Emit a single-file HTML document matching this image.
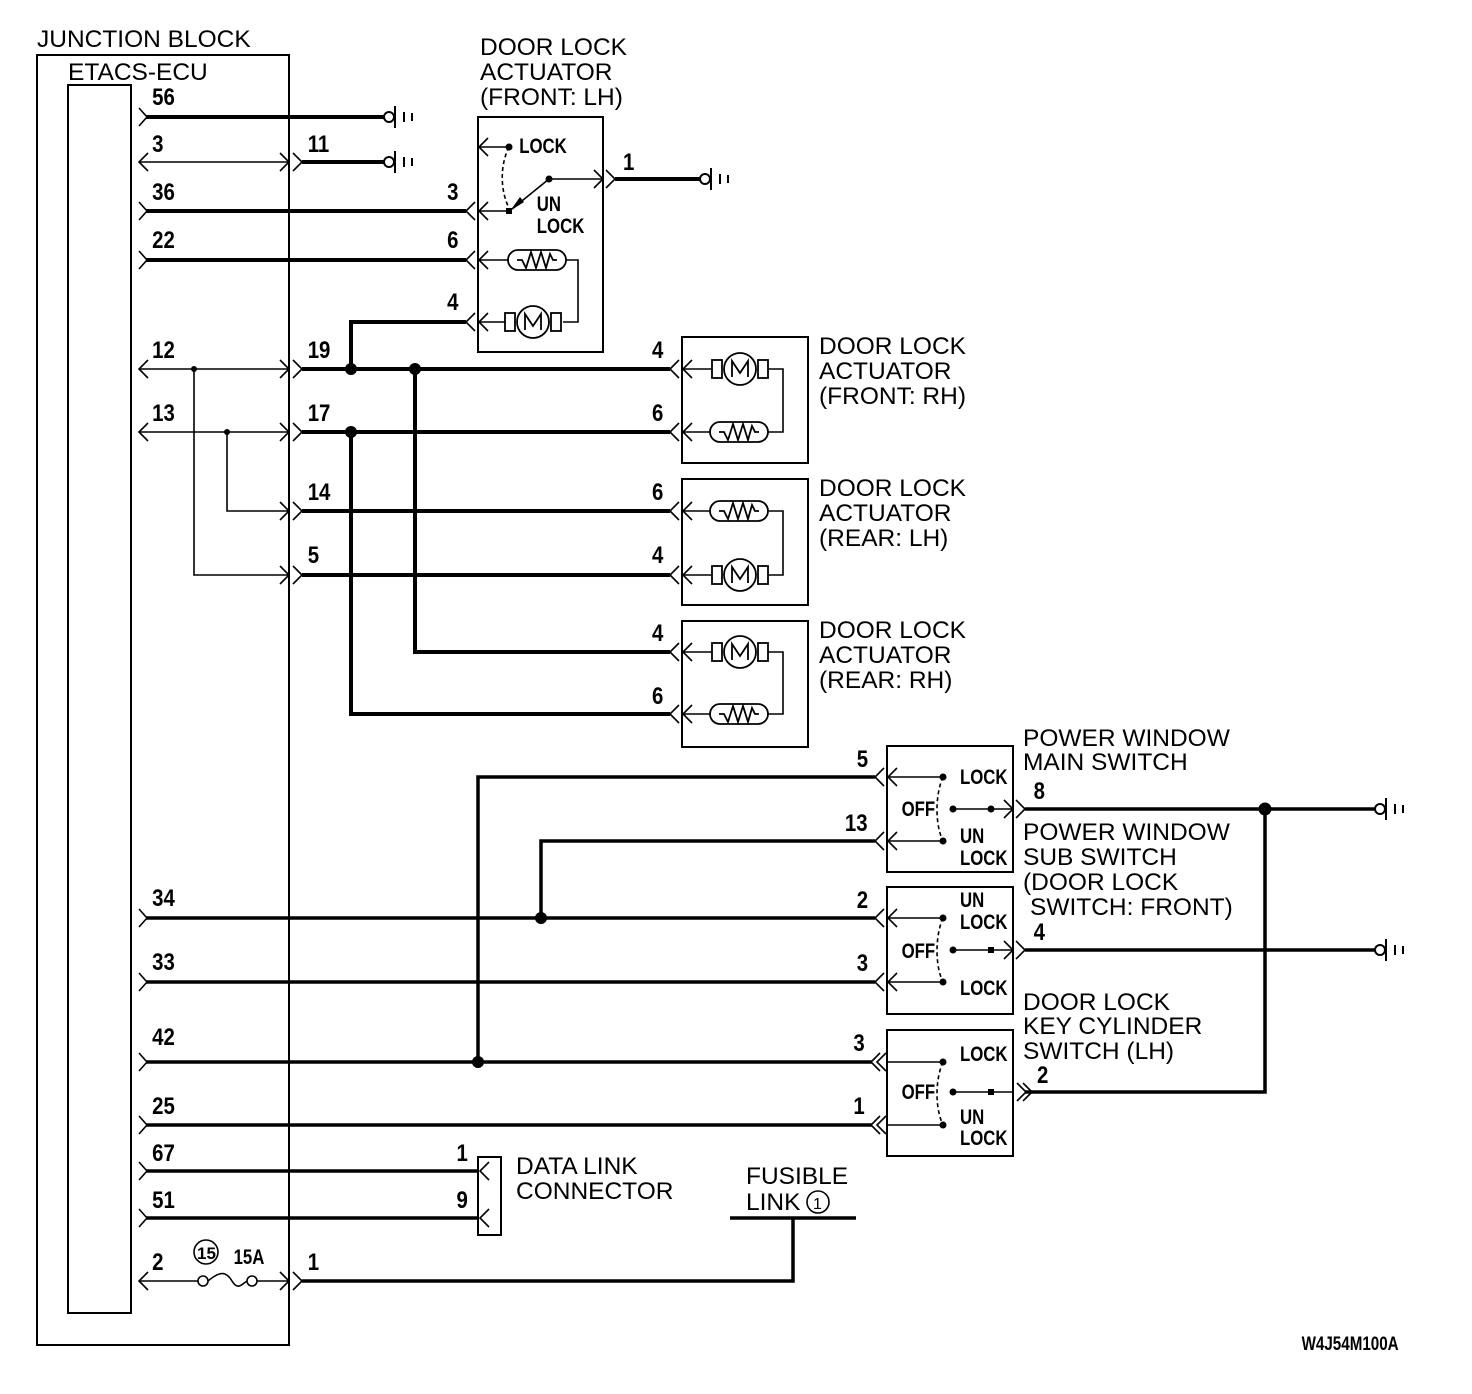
<!DOCTYPE html>
<html><head><meta charset="utf-8"><style>
html,body{margin:0;padding:0;background:#fff;}
svg{display:block;}
.t{font-family:"Liberation Sans",sans-serif;font-size:24.5px;fill:#000;}
.n{font-family:"Liberation Sans",sans-serif;font-size:24px;font-weight:bold;fill:#000;}
.s{font-family:"Liberation Sans",sans-serif;font-size:21px;font-weight:bold;fill:#000;}
</style></head><body>
<svg width="1472" height="1394" viewBox="0 0 1472 1394" xmlns="http://www.w3.org/2000/svg">
<defs>
<path id="cr" d="M-7,-9 L1,0 L-7,9" fill="none" stroke="#000" stroke-width="1.6"/>
<path id="al" d="M9,-9 L0,0 L9,9" fill="none" stroke="#000" stroke-width="1.6"/>
<path id="ar" d="M-9,-9 L0,0 L-9,9" fill="none" stroke="#000" stroke-width="1.6"/>
<g id="gnd" fill="none" stroke="#000" stroke-width="2"><circle cx="0" cy="0" r="5"/><line x1="6" y1="-11" x2="6" y2="11"/><line x1="15" y1="-5" x2="15" y2="5"/><line x1="23" y1="-4" x2="23" y2="4"/></g>
<g id="mot" fill="#fff" stroke="#000" stroke-width="1.8"><rect x="-28" y="-9" width="10" height="18"/><rect x="18" y="-9" width="10" height="18"/><circle cx="0" cy="0" r="16"/><path d="M-8,8 L-8,-8 L0,4 L8,-8 L8,8" fill="none"/></g>
<g id="htr" fill="#fff" stroke="#000" stroke-width="1.8"><rect x="-29" y="-10" width="58" height="20" rx="10"/><path d="M-20,0 L-15,0 L-11,8 L-6,-8 L-1,8 L4,-8 L9,8 L13,-6 L16,0 L20,0" fill="none"/></g>
</defs>
<g fill="none" stroke="#000" stroke-width="2">
<rect x="37" y="55" width="252" height="1290"/>
<rect x="68" y="85" width="63" height="1228"/>
<rect x="478" y="117" width="125" height="235"/>
<rect x="682" y="337" width="126" height="126"/>
<rect x="682" y="479" width="126" height="126"/>
<rect x="682" y="621" width="126" height="126"/>
<rect x="887" y="746" width="126" height="126"/>
<rect x="887" y="887" width="126" height="127"/>
<rect x="887" y="1030" width="126" height="126"/>
<rect x="478" y="1157" width="23" height="78"/>
</g>
<g stroke="#000" stroke-width="4" fill="none">
<line x1="146" y1="117" x2="384" y2="117"/>
<line x1="302" y1="162" x2="384" y2="162"/>
<line x1="146" y1="211" x2="466" y2="211"/>
<line x1="146" y1="260" x2="466" y2="260"/>
<polyline points="351,369 351,322 466,322"/>
<line x1="302" y1="369" x2="670" y2="369"/>
<line x1="302" y1="432" x2="670" y2="432"/>
<line x1="302" y1="511" x2="670" y2="511"/>
<line x1="302" y1="575" x2="670" y2="575"/>
<polyline points="415,369 415,652 670,652"/>
<polyline points="351,432 351,714 670,714"/>
<line x1="615" y1="179" x2="700" y2="179"/>
</g>
<g stroke="#000" stroke-width="3.5" fill="none">
<polyline points="478,1062 478,777 875,777"/>
<polyline points="541,918 541,841 875,841"/>
<line x1="146" y1="918" x2="875" y2="918"/>
<line x1="146" y1="982" x2="875" y2="982"/>
<line x1="146" y1="1062" x2="872" y2="1062"/>
<line x1="146" y1="1125" x2="872" y2="1125"/>
<line x1="146" y1="1171" x2="479" y2="1171"/>
<line x1="146" y1="1218" x2="479" y2="1218"/>
<polyline points="302,1281 793,1281 793,1218"/>
<line x1="730" y1="1218" x2="856" y2="1218"/>
<line x1="1025" y1="809" x2="1375" y2="809"/>
<line x1="1025" y1="950" x2="1375" y2="950"/>
<polyline points="1025,1092 1265,1092 1265,809"/>
</g>
<g stroke="#000" stroke-width="1.6" fill="none">
<line x1="139" y1="162" x2="289" y2="162"/>
<line x1="139" y1="369" x2="289" y2="369"/>
<line x1="139" y1="432" x2="289" y2="432"/>
<polyline points="194,369 194,575 289,575"/>
<polyline points="227,432 227,511 289,511"/>
<line x1="139" y1="1281" x2="198" y2="1281"/>
<line x1="257" y1="1281" x2="289" y2="1281"/>
<circle cx="203" cy="1281" r="5"/><circle cx="252" cy="1281" r="5"/>
<path d="M208,1281 C220,1271 226,1271 232,1281 C238,1291 242,1284 247,1281"/>
<circle cx="206" cy="1252" r="12"/>
<circle cx="818" cy="1202" r="11"/>
<line x1="479" y1="147" x2="509" y2="147"/>
<line x1="479" y1="211" x2="509" y2="211"/>
<line x1="549" y1="179" x2="603" y2="179"/>
<line x1="549" y1="179" x2="512" y2="209"/>
<path d="M509,147 C500,165 500,190 509,208" stroke-dasharray="4,3"/>
<line x1="479" y1="260" x2="508" y2="260"/>
<line x1="479" y1="322" x2="505" y2="322"/>
<polyline points="566,260 578,260 578,322 563,322"/>
<line x1="682" y1="369" x2="712" y2="369"/><line x1="682" y1="432" x2="712" y2="432"/>
<polyline points="768,369 783,369 783,432 768,432"/>
<line x1="682" y1="511" x2="712" y2="511"/><line x1="682" y1="575" x2="712" y2="575"/>
<polyline points="768,511 783,511 783,575 768,575"/>
<line x1="682" y1="652" x2="712" y2="652"/><line x1="682" y1="714" x2="712" y2="714"/>
<polyline points="768,652 783,652 783,714 768,714"/>
<line x1="887" y1="777" x2="943" y2="777"/><line x1="887" y1="841" x2="943" y2="841"/>
<line x1="951" y1="809" x2="1013" y2="809"/>
<path d="M943,777 C935,795 935,825 943,841" stroke-dasharray="4,3"/>
<line x1="887" y1="918" x2="943" y2="918"/><line x1="887" y1="982" x2="943" y2="982"/>
<line x1="951" y1="950" x2="1013" y2="950"/>
<path d="M943,918 C935,936 935,966 943,982" stroke-dasharray="4,3"/>
<line x1="887" y1="1062" x2="943" y2="1062"/><line x1="887" y1="1125" x2="943" y2="1125"/>
<line x1="951" y1="1092" x2="1013" y2="1092"/>
<path d="M943,1062 C935,1080 935,1108 943,1125" stroke-dasharray="4,3"/>
<path d="M880,1053 L871,1062 L880,1071 M886,1053 L877,1062 L886,1071"/>
<path d="M880,1116 L871,1125 L880,1134 M886,1116 L877,1125 L886,1134"/>
<path d="M1017,1083 L1026,1092 L1017,1101 M1023,1083 L1032,1092 L1023,1101"/>
</g>
<g fill="#000">
<circle cx="351" cy="369" r="6"/><circle cx="415" cy="369" r="6"/><circle cx="351" cy="432" r="6"/>
<circle cx="194" cy="369" r="3"/><circle cx="227" cy="432" r="3"/>
<circle cx="478" cy="1062" r="6"/><circle cx="541" cy="918" r="6"/><circle cx="1265" cy="809" r="6.5"/>
<circle cx="509" cy="147" r="3.5"/><circle cx="549" cy="179" r="3.5"/><rect x="506" y="208" width="6" height="6"/>
<path d="M510,211 L520,197 L524,202 Z"/>
<circle cx="943" cy="777" r="3.5"/><circle cx="943" cy="841" r="3.5"/><circle cx="953" cy="809" r="3.5"/><circle cx="991" cy="809" r="3.5"/>
<circle cx="943" cy="918" r="3.5"/><circle cx="943" cy="982" r="3.5"/><circle cx="953" cy="950" r="3.5"/><rect x="988" y="947" width="6" height="6"/>
<circle cx="943" cy="1062" r="3.5"/><circle cx="943" cy="1125" r="3.5"/><circle cx="953" cy="1092" r="3.5"/><rect x="988" y="1089" width="6" height="6"/>
</g>
<use href="#cr" x="146" y="117"/><use href="#al" x="139" y="162"/><use href="#cr" x="146" y="211"/><use href="#cr" x="146" y="260"/>
<use href="#al" x="139" y="369"/><use href="#al" x="139" y="432"/>
<use href="#cr" x="146" y="918"/><use href="#cr" x="146" y="982"/><use href="#cr" x="146" y="1062"/><use href="#cr" x="146" y="1125"/>
<use href="#cr" x="146" y="1171"/><use href="#cr" x="146" y="1218"/><use href="#al" x="139" y="1281"/>
<use href="#ar" x="289" y="162"/><use href="#ar" x="302" y="162"/>
<use href="#ar" x="289" y="369"/><use href="#ar" x="302" y="369"/>
<use href="#ar" x="289" y="432"/><use href="#ar" x="302" y="432"/>
<use href="#ar" x="289" y="511"/><use href="#ar" x="302" y="511"/>
<use href="#ar" x="289" y="575"/><use href="#ar" x="302" y="575"/>
<use href="#ar" x="289" y="1281"/><use href="#ar" x="302" y="1281"/>
<use href="#al" x="466" y="211"/><use href="#al" x="479" y="211"/>
<use href="#al" x="466" y="260"/><use href="#al" x="479" y="260"/>
<use href="#al" x="466" y="322"/><use href="#al" x="479" y="322"/>
<use href="#al" x="479" y="147"/>
<use href="#ar" x="603" y="179"/><use href="#ar" x="615" y="179"/>
<use href="#al" x="670" y="369"/><use href="#al" x="683" y="369"/>
<use href="#al" x="670" y="432"/><use href="#al" x="683" y="432"/>
<use href="#al" x="670" y="511"/><use href="#al" x="683" y="511"/>
<use href="#al" x="670" y="575"/><use href="#al" x="683" y="575"/>
<use href="#al" x="670" y="652"/><use href="#al" x="683" y="652"/>
<use href="#al" x="670" y="714"/><use href="#al" x="683" y="714"/>
<use href="#al" x="875" y="777"/><use href="#al" x="888" y="777"/>
<use href="#al" x="875" y="841"/><use href="#al" x="888" y="841"/>
<use href="#al" x="875" y="918"/><use href="#al" x="888" y="918"/>
<use href="#al" x="875" y="982"/><use href="#al" x="888" y="982"/>
<use href="#ar" x="1013" y="809"/><use href="#ar" x="1025" y="809"/>
<use href="#ar" x="1013" y="950"/><use href="#ar" x="1025" y="950"/>
<use href="#al" x="480" y="1171"/><use href="#al" x="480" y="1218"/>
<use href="#gnd" x="389" y="117"/><use href="#gnd" x="389" y="162"/><use href="#gnd" x="705" y="179"/>
<use href="#gnd" x="1380" y="809"/><use href="#gnd" x="1380" y="950"/>
<use href="#htr" x="537" y="260"/><use href="#mot" x="533" y="322"/>
<use href="#mot" x="740" y="369"/><use href="#htr" x="739" y="432"/>
<use href="#htr" x="739" y="511"/><use href="#mot" x="740" y="575"/>
<use href="#mot" x="740" y="652"/><use href="#htr" x="739" y="714"/>
<text class="t" x="37" y="47">JUNCTION BLOCK</text>
<text class="t" x="68" y="80">ETACS-ECU</text>
<text class="t" x="480" y="55">DOOR LOCK</text><text class="t" x="480" y="80">ACTUATOR</text><text class="t" x="480" y="105">(FRONT: LH)</text>
<text class="t" x="819" y="354">DOOR LOCK</text><text class="t" x="819" y="379">ACTUATOR</text><text class="t" x="819" y="404">(FRONT: RH)</text>
<text class="t" x="819" y="496">DOOR LOCK</text><text class="t" x="819" y="521">ACTUATOR</text><text class="t" x="819" y="546">(REAR: LH)</text>
<text class="t" x="819" y="638">DOOR LOCK</text><text class="t" x="819" y="663">ACTUATOR</text><text class="t" x="819" y="688">(REAR: RH)</text>
<text class="t" x="1023" y="746">POWER WINDOW</text><text class="t" x="1023" y="770">MAIN SWITCH</text>
<text class="t" x="1023" y="840">POWER WINDOW</text><text class="t" x="1023" y="865">SUB SWITCH</text><text class="t" x="1023" y="890">(DOOR LOCK</text><text class="t" x="1030" y="915">SWITCH: FRONT)</text>
<text class="t" x="1023" y="1010">DOOR LOCK</text><text class="t" x="1023" y="1034">KEY CYLINDER</text><text class="t" x="1023" y="1059">SWITCH (LH)</text>
<text class="t" x="516" y="1174">DATA LINK</text><text class="t" x="516" y="1199">CONNECTOR</text>
<text class="t" x="746" y="1184">FUSIBLE</text><text class="t" x="746" y="1210">LINK</text>
<text x="813" y="1209" style="font-family:'Liberation Sans',sans-serif;font-size:16px">1</text>
<text class="s" x="197" y="1259" style="font-size:17px">15</text>
<g transform="scale(0.8,1)"><text class="s" x="292" y="1264">15A</text>
<text class="s" x="1627" y="1350" style="font-size:19px">W4J54M100A</text></g>
<g class="n" transform="scale(0.85,1)">
<text x="179" y="105">56</text><text x="179" y="152">3</text><text x="362" y="152">11</text>
<text x="179" y="200">36</text><text x="179" y="248">22</text>
<text x="179" y="358">12</text><text x="362" y="358">19</text>
<text x="179" y="421">13</text><text x="362" y="421">17</text>
<text x="362" y="500">14</text><text x="362" y="563">5</text>
<text x="526" y="200">3</text><text x="526" y="248">6</text><text x="526" y="310">4</text>
<text x="733" y="170">1</text>
<text x="767" y="358">4</text><text x="767" y="421">6</text><text x="767" y="500">6</text><text x="767" y="563">4</text>
<text x="767" y="641">4</text><text x="767" y="704">6</text>
<text x="1008" y="767">5</text><text x="994" y="831">13</text><text x="1008" y="908">2</text><text x="1008" y="971">3</text>
<text x="1004" y="1051">3</text><text x="1004" y="1114">1</text>
<text x="1216" y="799">8</text><text x="1216" y="940">4</text><text x="1220" y="1083">2</text>
<text x="179" y="906">34</text><text x="179" y="970">33</text><text x="179" y="1045">42</text><text x="179" y="1114">25</text>
<text x="179" y="1161">67</text><text x="179" y="1208">51</text><text x="179" y="1270">2</text><text x="362" y="1270">1</text>
<text x="537" y="1161">1</text><text x="537" y="1208">9</text>
</g>
<g class="s" transform="scale(0.8,1)">
<text x="649" y="153">LOCK</text><text x="671" y="211">UN</text><text x="671" y="233">LOCK</text>
<text x="1200" y="784">LOCK</text><text x="1127" y="816">OFF</text><text x="1200" y="843">UN</text><text x="1200" y="865">LOCK</text>
<text x="1200" y="907">UN</text><text x="1200" y="929">LOCK</text><text x="1127" y="958">OFF</text><text x="1200" y="995">LOCK</text>
<text x="1200" y="1061">LOCK</text><text x="1127" y="1099">OFF</text><text x="1200" y="1124">UN</text><text x="1200" y="1145">LOCK</text>
</g>
</svg>
</body></html>
